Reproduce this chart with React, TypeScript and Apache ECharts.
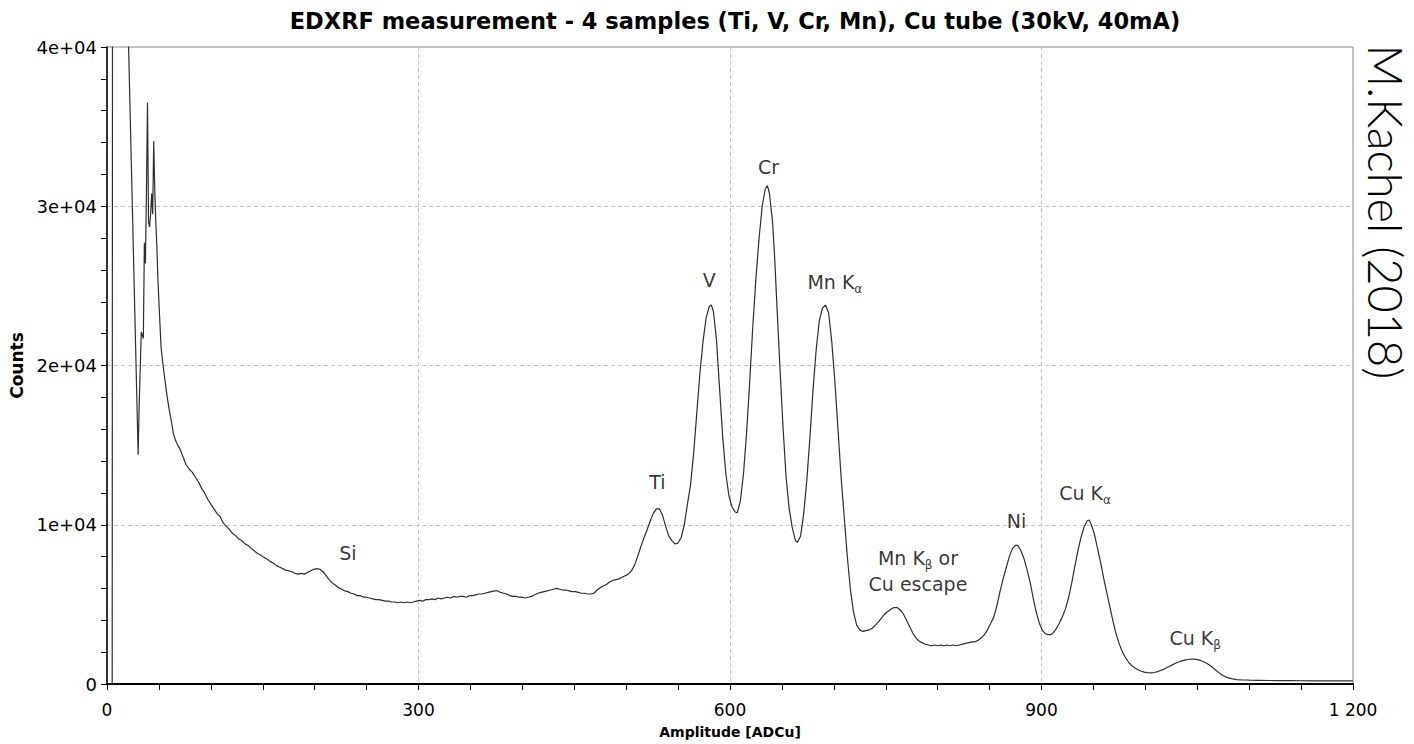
import React, { useEffect, useRef } from "react";
import * as echarts from "echarts";

const titleText = "EDXRF measurement - 4 samples (Ti, V, Cr, Mn), Cu tube (30kV, 40mA)";
const xAxisName = "Amplitude [ADCu]";
const yAxisName = "Counts";
const watermark = "M.Kachel (2018)";

// [channel, counts]
const spectrum: [number, number][] = [
  [0, 0], [4, 0], [5, 0], [6, 150000], [19, 45000], [30, 14400], [31, 17500], [32, 19800], [33, 22100], [34, 21900],
  [35, 21700], [36, 27700], [37, 26400], [38, 31000], [39, 36500], [40, 29000], [41, 28700], [42, 29500], [43, 30800],
  [44, 29500], [45, 34100], [46, 31000], [47, 29000], [48, 27500], [49, 25500], [50, 24000], [51, 22600], [52, 21200],
  [53, 20600], [54, 20000], [56, 19000], [58, 18000], [60, 17200], [62, 16500], [64, 15700], [66, 15300], [68, 15000],
  [70, 14800], [73, 14300], [76, 13800], [79, 13500], [82, 13300], [85, 13000], [88, 12700], [91, 12300], [94, 12000],
  [97, 11600], [100, 11300], [103, 11000], [106, 10700], [109, 10500], [112, 10100], [115, 9900], [118, 9700],
  [121, 9450], [124, 9300], [127, 9100], [130, 9000], [133, 8800], [136, 8700], [139, 8500], [142, 8350], [145, 8200],
  [148, 8100], [151, 7950], [154, 7850], [157, 7700], [160, 7600], [163, 7450], [166, 7350], [169, 7250], [172, 7150],
  [175, 7100], [178, 7050], [181, 6950], [184, 6900], [187, 6950], [190, 6900], [193, 7000], [196, 7100], [199, 7200],
  [202, 7250], [205, 7200], [208, 7050], [211, 6800], [214, 6550], [217, 6350], [220, 6200], [223, 6050], [226, 5950],
  [229, 5850], [232, 5800], [235, 5700], [238, 5650], [241, 5550], [244, 5550], [247, 5450], [250, 5450], [253, 5400],
  [256, 5350], [259, 5300], [262, 5300], [265, 5250], [268, 5200], [271, 5200], [274, 5150], [277, 5150], [280, 5100],
  [283, 5150], [286, 5100], [289, 5150], [292, 5100], [295, 5150], [298, 5200], [301, 5250], [304, 5200], [307, 5300],
  [310, 5300], [313, 5350], [316, 5300], [319, 5400], [322, 5350], [325, 5400], [328, 5450], [331, 5400], [334, 5500],
  [337, 5450], [340, 5500], [343, 5500], [346, 5450], [349, 5550], [352, 5550], [355, 5600], [358, 5650], [361, 5650],
  [364, 5700], [367, 5750], [370, 5800], [373, 5850], [376, 5850], [379, 5750], [382, 5700], [385, 5650], [388, 5550],
  [391, 5500], [394, 5500], [397, 5450], [400, 5450], [403, 5400], [406, 5450], [409, 5500], [412, 5600], [415, 5700],
  [418, 5750], [421, 5800], [424, 5850], [427, 5900], [430, 5950], [433, 6000], [436, 5950], [439, 5900], [442, 5900],
  [445, 5850], [448, 5800], [451, 5800], [454, 5750], [457, 5700], [460, 5700], [463, 5650], [466, 5650], [469, 5700],
  [472, 5900], [475, 6050], [478, 6150], [481, 6250], [484, 6400], [487, 6500], [490, 6550], [493, 6600], [496, 6700],
  [499, 6800], [502, 6900], [505, 7100], [508, 7450], [511, 8000], [514, 8600], [517, 9150], [520, 9650], [523, 10200],
  [526, 10700], [529, 11000], [532, 11000], [535, 10600], [538, 9900], [541, 9300], [544, 9000], [547, 8800], [550, 8850],
  [553, 9200], [556, 10000], [559, 11300], [562, 12500], [565, 14500], [568, 17000], [571, 19500], [574, 21500],
  [577, 23000], [580, 23700], [582, 23800], [584, 23400], [587, 21600], [590, 18500], [593, 15500], [596, 13200],
  [599, 11800], [602, 11100], [605, 10800], [607, 10750], [610, 11500], [613, 13200], [616, 15800], [619, 19000],
  [622, 22500], [625, 25500], [628, 28000], [631, 30000], [634, 31100], [636, 31300], [638, 30800], [641, 29000],
  [643, 26800], [645, 24000], [648, 20000], [651, 16200], [654, 13000], [657, 11000], [660, 9800], [663, 9000],
  [665, 8900], [668, 9300], [671, 10700], [674, 12800], [677, 15500], [680, 18500], [683, 21000], [686, 22800],
  [689, 23600], [692, 23800], [695, 23300], [698, 21500], [701, 19000], [704, 16000], [707, 13000], [710, 10500],
  [713, 8000], [716, 5900], [719, 4500], [722, 3700], [725, 3400], [728, 3300], [731, 3350], [734, 3400], [737, 3500],
  [740, 3700], [743, 3900], [746, 4150], [749, 4400], [752, 4550], [755, 4700], [758, 4800], [761, 4800], [764, 4650],
  [767, 4400], [770, 4000], [773, 3600], [776, 3200], [779, 2900], [782, 2700], [785, 2600], [788, 2500], [791, 2450],
  [794, 2400], [797, 2450], [800, 2400], [803, 2450], [806, 2400], [809, 2450], [812, 2400], [815, 2450], [818, 2400],
  [821, 2450], [824, 2500], [827, 2550], [830, 2600], [833, 2650], [836, 2650], [839, 2750], [842, 2900], [845, 3100],
  [848, 3400], [851, 3800], [854, 4200], [857, 4900], [860, 5800], [863, 6600], [866, 7300], [869, 8000], [872, 8500],
  [875, 8700], [877, 8700], [880, 8400], [883, 7900], [886, 7200], [889, 6400], [892, 5400], [895, 4500], [898, 3800],
  [901, 3350], [904, 3150], [907, 3100], [909, 3100], [911, 3200], [914, 3450], [917, 3800], [920, 4200], [923, 4700],
  [926, 5400], [929, 6300], [932, 7350], [935, 8350], [938, 9200], [941, 9850], [944, 10250], [946, 10300], [948, 10000],
  [951, 9400], [954, 8500], [957, 7600], [960, 6600], [963, 5700], [966, 4800], [969, 3900], [972, 3100], [975, 2500],
  [978, 2000], [981, 1650], [984, 1350], [987, 1150], [990, 1000], [993, 900], [996, 800], [999, 750], [1002, 720],
  [1005, 700], [1008, 720], [1011, 760], [1014, 830], [1017, 900], [1020, 1000], [1023, 1100], [1026, 1200],
  [1029, 1300], [1032, 1380], [1035, 1450], [1038, 1500], [1041, 1540], [1044, 1570], [1047, 1560], [1050, 1530],
  [1053, 1480], [1056, 1400], [1059, 1300], [1062, 1180], [1065, 1030], [1068, 860], [1071, 700], [1074, 570],
  [1077, 460], [1080, 380], [1084, 320], [1088, 280], [1092, 260], [1096, 250], [1100, 240], [1110, 230], [1120, 220],
  [1130, 215], [1140, 210], [1150, 205], [1160, 200], [1170, 200], [1180, 195], [1190, 195], [1200, 190],
];

// Peak annotations: [channel, counts, rich label]
const peakLabels: [number, number, string][] = [
  [232, 8250, "Si"],
  [530, 12700, "Ti"],
  [580, 25400, "V"],
  [637, 32450, "Cr"],
  [701, 25250, "Mn K{sub|α}"],
  [781, 7100, "Mn K{sub|β} or\nCu escape"],
  [876, 10250, "Ni"],
  [942, 12000, "Cu K{sub|α}"],
  [1048, 2880, "Cu K{sub|β}"],
];

const FONT = "DejaVu Sans";

function formatY(v: number): string {
  if (v === 0) return "0";
  const e = Math.floor(Math.log10(v));
  const m = Math.round(v / Math.pow(10, e));
  return `${m}e+${e < 10 ? "0" + e : e}`;
}

function formatX(v: number): string {
  return String(v).replace(/\B(?=(\d{3})+(?!\d))/g, " ");
}

export default function App() {
  const ref = useRef<HTMLDivElement>(null);
  useEffect(() => {
    if (!ref.current) return;
    const chart = echarts.init(ref.current, undefined, { renderer: "svg" });
    chart.setOption({
      animation: false,
      backgroundColor: "#ffffff",
      title: {
        text: titleText,
        left: 730,
        top: 4,
        textAlign: "center",
        textStyle: { fontFamily: FONT, fontWeight: "bold", fontSize: 22.5, color: "#000" },
      },
      grid: {
        left: 107,
        right: 61,
        top: 47,
        bottom: 57,
        show: true,
        borderColor: "#8c8c8c",
        borderWidth: 1,
        backgroundColor: "transparent",
      },
      xAxis: {
        type: "value",
        min: 0,
        max: 1200,
        interval: 300,
        name: xAxisName,
        nameLocation: "middle",
        nameGap: 41,
        nameTextStyle: { fontFamily: FONT, fontWeight: "bold", fontSize: 14, color: "#000" },
        axisLine: { show: true, onZero: false, lineStyle: { color: "#000", width: 2 } },
        axisTick: { show: true, length: 6, lineStyle: { color: "#000" } },
        minorTick: { show: true, splitNumber: 6, length: 6, lineStyle: { color: "#000" } },
        axisLabel: { fontFamily: FONT, fontSize: 17, color: "#000", margin: 17, formatter: formatX },
        splitLine: {
          show: true,
          lineStyle: { color: "#c4c4c4", type: [4, 3], width: 1 },
        },
      },
      yAxis: {
        type: "value",
        min: 0,
        max: 40000,
        interval: 10000,
        name: yAxisName,
        nameLocation: "middle",
        nameGap: 79,
        nameRotate: 90,
        nameTextStyle: { fontFamily: FONT, fontWeight: "bold", fontSize: 17, color: "#000" },
        axisLine: { show: true, onZero: false, lineStyle: { color: "#000", width: 1.5 } },
        axisTick: { show: true, length: 6, lineStyle: { color: "#000" } },
        minorTick: { show: true, splitNumber: 5, length: 6, lineStyle: { color: "#000" } },
        axisLabel: { fontFamily: FONT, fontSize: 18, color: "#000", margin: 10, formatter: formatY },
        splitLine: {
          show: true,
          lineStyle: { color: "#c4c4c4", type: [4, 3], width: 1 },
        },
      },
      series: [
        {
          type: "line",
          data: spectrum,
          showSymbol: false,
          symbol: "none",
          clip: true,
          lineStyle: { color: "#2e2e2e", width: 1.2 },
          z: 3,
        },
        {
          type: "scatter",
          symbolSize: 0,
          silent: true,
          z: 4,
          data: peakLabels.map((p) => ({
            value: [p[0], p[1]],
            name: p[2],
          })),
          label: {
            show: true,
            position: "inside",
            formatter: (params: any) => params.name,
            fontFamily: FONT,
            fontSize: 19,
            color: "#000",
            lineHeight: 26,
            rich: {
              sub: {
                fontFamily: FONT,
                fontSize: 12,
                color: "#000",
                verticalAlign: "bottom",
                padding: [10, 0, 0, 0],
              },
            },
          },
        },
      ],
      graphic: [
        {
          type: "text",
          x: 1386,
          y: 212,
          rotation: -Math.PI / 2,
          style: {
            text: watermark,
            fontFamily: "Lato",
            fontWeight: 300,
            fontSize: 47,
            fill: "#000",
            textAlign: "center",
            textVerticalAlign: "middle",
          },
        },
      ],
    });
    return () => chart.dispose();
  }, []);
  return (
    <div
      ref={ref}
      style={{ position: "fixed", left: 0, top: 0, width: 1414, height: 744 }}
    />
  );
}
